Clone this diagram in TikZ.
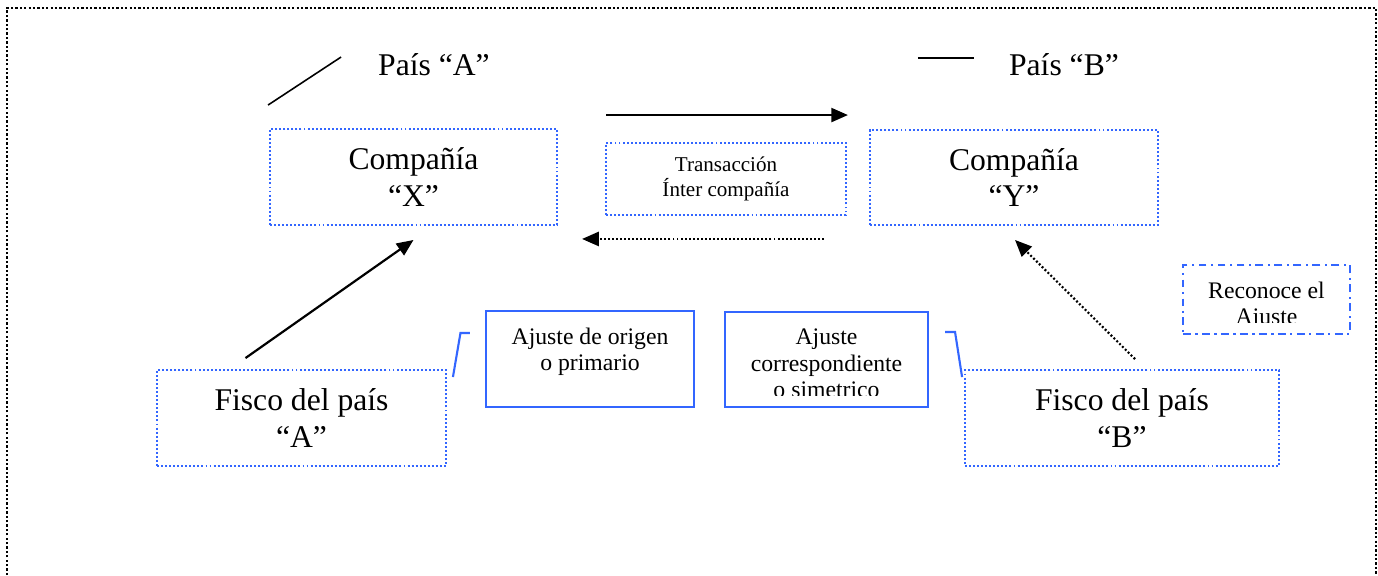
\documentclass[tikz,border=0pt]{standalone}
\usepackage{fontspec}
\setmainfont{Liberation Serif}
\usetikzlibrary{arrows.meta,calc}
\definecolor{boxblue}{RGB}{51,102,255}

\begin{document}
\begin{tikzpicture}[
			x=0.02cm, y=-0.02cm,
			bigfont/.style={font=\fontsize{18}{21}\selectfont},
			smallfont/.style={font=\fontsize{12}{14.2}\selectfont},
			box/.style={
				draw=boxblue,
				line width=1.1pt,
				dash pattern=on 1.1pt off 1.2pt,
				align=center,
				bigfont
			},
			adjbox/.style={draw=boxblue, line width=1.2pt},
			notebox/.style={draw=boxblue, line width=1.3pt,
				dash pattern=on 4.5pt off 2.5pt on 1.3pt off 2.5pt},
			cutbox/.style={path picture={
				\clip ([yshift=0.23cm]path picture bounding box.south west) rectangle (path picture bounding box.north east);
				\node[draw=none, anchor=north, inner sep=0pt, minimum width=0pt, minimum height=0pt,
				align=center, font=\fontsize{13.5}{15}\selectfont]
				at ([yshift=-0.32cm]path picture bounding box.north) {#1};
			}},
			arrow/.style={-{Triangle[length=9.5pt,width=8pt]}, line width=1.25pt},
			dotarrow/.style={arrow, dash pattern=on 1.1pt off 1.2pt},
			thinline/.style={line width=0.9pt},
			bracket/.style={draw=boxblue, line width=1.2pt},
			frame/.style={line width=1.3pt, dash pattern=on 1.3pt off 1.2pt}
			]
			
			\useasboundingbox (0,0) rectangle (1378,575);
			\fill[white] (0,0) rectangle (1378,575);
			\draw[frame] (7,575) -- (7,8) -- (1376,8) -- (1376,575);
			
			% countries
			\node[bigfont,anchor=base] (paisA) at (434,75) {País “A”};
			\node[bigfont,anchor=base] (paisB) at (1064,75) {País “B”};
			
			% companies and transaction
			\node[box,minimum width=5.74cm,minimum height=1.92cm] (compX) at (413.5,177) {Compañía\\ “X”};
			\node[box,minimum width=5.76cm,minimum height=1.9cm] (compY) at (1014,177.5) {Compañía\\ “Y”};
			\node[box,smallfont,minimum width=4.8cm,minimum height=1.44cm] (trans) at (726,179) {Transacción\\ Ínter compañía};
			
			% tax authorities
			\node[box,minimum width=5.78cm,minimum height=1.92cm] (fiscoA) at (301.5,418) {Fisco del país\\ “A”};
			\node[box,minimum width=6.28cm,minimum height=1.92cm] (fiscoB) at (1122,418) {Fisco del país\\ “B”};
			
			% adjustments
			\node[adjbox,cutbox={Ajuste de origen\\ o primario},minimum width=4.16cm,minimum height=1.92cm] (adjA) at (590,359) {};
			\node[adjbox,cutbox={Ajuste\\ correspondiente\\ o simetrico},minimum width=4.06cm,minimum height=1.9cm] (adjB) at (826.5,359.5) {};
			\node[notebox,cutbox={Reconoce el\\ Ajuste},minimum width=3.34cm,minimum height=1.38cm] (recon) at (1266.5,299.5) {};
			
			\draw[thinline] ($(compX.north west)+(-1,-23)$) -- ($(compX.north west)+(72,-71)$);
			\draw[thinline] ($(paisB.base west)+(-85,-17)$) -- ($(paisB.base west)+(-29,-17)$);
			
			\draw[arrow] ($(trans.north west)+(1,-27)$) -- ($(trans.north east)+(1,-27)$);
			\draw[dotarrow] ($(trans.south east)+(-23,23)$) -- ($(trans.south west)+(-23,23)$);
			\draw[arrow] ($(fiscoA.north)+(-56,-11)$) -- ($(compX.south)+(0,14)$);
			\draw[dotarrow] ($(fiscoB.north)+(13,-10)$) -- ($(compY.south)+(1,14)$);
			
			\draw[bracket] ($(fiscoA.north east)+(6,8)$) -- ($(adjA.north west)+(-24.5,23)$) -- ($(adjA.north west)+(-15,23)$);
			\draw[bracket] ($(adjB.north east)+(16,21)$) -- ($(adjB.north east)+(26,21)$) -- ($(fiscoB.north west)+(-2,8)$);
			
		\end{tikzpicture}
\end{document}
